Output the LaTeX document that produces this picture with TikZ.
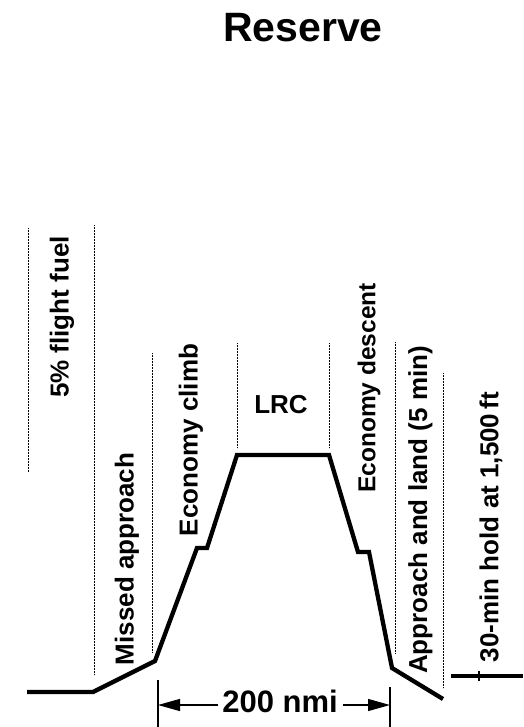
\documentclass[tikz,border=0pt]{standalone}
\usepackage{fontspec}
\setmainfont{Liberation Sans}
\usetikzlibrary{arrows.meta}
\begin{document}
\begin{tikzpicture}[x=1pt,y=-1pt,
  txt/.style={font=\bfseries\fontsize{26}{26}\selectfont,inner sep=0pt},
  lbl/.style={txt,rotate=90},
  guide/.style={line width=0.8pt,dash pattern=on 0.8pt off 0.7pt},
  profile/.style={line width=4.3pt,line join=miter},
  dimline/.style={line width=1.2pt},
  dimarrow/.style={line width=1.2pt,-{Triangle[length=22pt,width=12pt]}}]
\useasboundingbox (0,0) rectangle (523,727);
% title
\node[font=\bfseries\fontsize{41}{41}\selectfont,inner sep=0pt,anchor=base] (title) at (303,42) {Reserve};
% guide lines
\draw[guide] (28,228) -- (28,472);
\draw[guide] (94,225) -- (94,675);
\draw[guide] (152,353) -- (152,652);
\draw[guide] (237,343) -- (237,448);
\draw[guide] (329,343) -- (329,448);
\draw[guide] (395,342) -- (395,653);
\draw[guide] (443.5,373) -- (443.5,688);
% labels
\node[lbl] (fuel) at (62,317) {5\% flight fuel};
\node[lbl] (missed) at (127,559) {Missed approach};
\node[lbl] (climb) at (191,440) {Economy climb};
\node[txt] (lrc) at (281,405) {LRC};
\node[lbl,font=\bfseries\fontsize{24.5}{24.5}\selectfont] (descent) at (369,388) {Economy descent};
\node[lbl] (approach) at (420.5,510) {Approach and land (5 min)};
\node[lbl] (hold) at (491,527) {30-min hold at 1,500\,ft};
% profile
\draw[profile] (27,692) -- (93,692) -- (155,661) -- (197,548) -- (207,548)
  -- (237,455) -- (329,455) -- (358,552) -- (369,552) -- (392,668) -- (443,699);
\draw[profile] (451,676) -- (523,676);
\draw[line width=1.6pt] (479,671) -- (479,681);
% dimension
\coordinate (l1) at (158,680);
\coordinate (l2) at (158,727);
\coordinate (r1) at (390,687);
\coordinate (r2) at (390,727);
\draw[dimline] (l1) -- (l2);
\draw[dimline] (r1) -- (r2);
\node[font=\bfseries\fontsize{31}{31}\selectfont,inner sep=0pt,anchor=base] (dist) at (280,712) {200 nmi};
\coordinate (la) at (158,705);
\coordinate (ra) at (390,705);
\draw[dimarrow] (dist.west |- la) ++(-4,0) -- (la);
\draw[dimarrow] (dist.east |- ra) ++(5,0) -- (ra);
\end{tikzpicture}
\end{document}
